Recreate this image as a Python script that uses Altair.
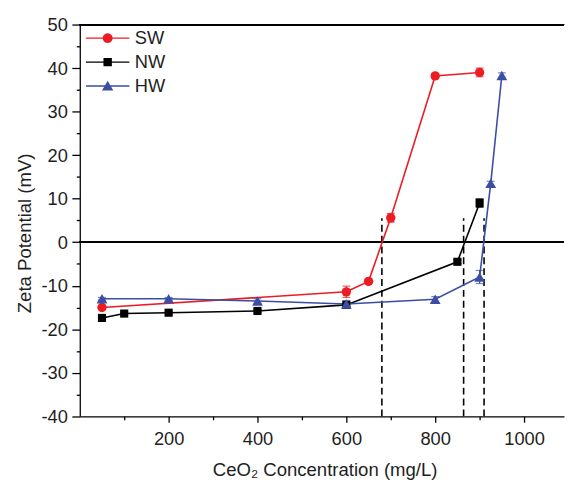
import math
import altair as alt
import pandas as pd

SERIES = ["SW", "NW", "HW"]
COLORS = ["#ec1c24", "#000000", "#3b4ea3"]
SHAPES = ["circle", "square", "triangle-up"]
SIZES = [90, 68, 120]

SW_X = [50, 600, 650, 700, 800, 900]
SW_Y = [-15.0, -11.4, -9.0, 5.6, 38.2, 39.0]
SW_E = [0.4, 1.3, 0.5, 1.0, 0.5, 1.0]

NW_X = [50, 100, 200, 400, 600, 850, 900]
NW_Y = [-17.4, -16.4, -16.2, -15.8, -14.4, -4.5, 9.0]
NW_E = [0.3, 0.3, 0.3, 0.3, 0.4, 0.4, 1.0]

HW_X = [50, 200, 400, 600, 800, 900, 925, 950]
HW_Y = [-13.0, -13.0, -13.5, -14.2, -13.1, -8.0, 13.5, 38.3]
HW_E = [0.3, 0.3, 0.5, 0.8, 0.6, 1.5, 0.5, 0.6]

DASH_X = [680, 864, 910]
DASH_LO = [-40, -40, -40]
DASH_HI = [5.5, 5.5, 5.5]

X_MAJOR = [200, 400, 600, 800, 1000]
X_MINOR = [100, 300, 500, 700, 900]
Y_MAJOR = [-40, -30, -20, -10, 0, 10, 20, 30, 40, 50]
Y_MINOR = [-35, -25, -15, -5, 5, 15, 25, 35, 45]

rows = []
for name, xs_, ys_, es_ in [("SW", SW_X, SW_Y, SW_E), ("NW", NW_X, NW_Y, NW_E), ("HW", HW_X, HW_Y, HW_E)]:
    for xv, yv, ev in zip(xs_, ys_, es_):
        rows.append({"series": name, "conc": xv, "zeta": yv, "lo": yv - ev, "hi": yv + ev})
df = pd.DataFrame(rows)
dash_df = pd.DataFrame({"x": DASH_X, "lo": DASH_LO, "hi": DASH_HI})

FONT = "Liberation Sans"
TXT = "#1e1e1e"

xscale = alt.Scale(domain=[0, 1090], nice=False, zero=False)
yscale = alt.Scale(domain=[-40, 50], nice=False, zero=False)
# colour scale for the marks (domain listed in reverse so it stays separate from the legend scales)
cscale = alt.Scale(domain=SERIES[::-1], range=COLORS[::-1])

x_major = alt.Axis(values=X_MAJOR, orient="bottom", tickSize=6, tickWidth=1.3, tickColor="#000",
                   domainColor="#000", domainWidth=1.3, grid=False, labelFont=FONT, labelFontSize=18.5,
                   labelColor=TXT, labelPadding=8, labelFlush=False, labelExpr="'' + datum.value",
                   title="CeO\u2082 Concentration (mg/L)", titleFont=FONT, titleFontSize=18.8,
                   titleFontWeight="normal", titleColor=TXT, titleX=248, titleY=60,
                   titleAlign="center", titleBaseline="alphabetic")
x_minor = alt.Axis(values=X_MINOR, orient="bottom", tickSize=3.5, tickWidth=1.3, tickColor="#000",
                   domain=False, labels=False, grid=False, title=None)
y_major = alt.Axis(values=Y_MAJOR, orient="left", tickSize=8, tickWidth=1.3, tickColor="#000",
                   domainColor="#000", domainWidth=1.3, grid=False, labelFont=FONT, labelFontSize=18.5,
                   labelColor=TXT, labelPadding=4.5, labelExpr="'' + datum.value",
                   title="Zeta Potential (mV)", titleFont=FONT, titleFontSize=18.8,
                   titleFontWeight="normal", titleColor=TXT, titleAngle=270, titleX=-56, titleY=211,
                   titleAlign="center", titleBaseline="middle")
y_minor = alt.Axis(values=Y_MINOR, orient="left", tickSize=3.5, tickWidth=1.3, tickColor="#000",
                   domain=False, labels=False, grid=False, title=None)

# legend symbols: line segment + marker, as custom paths (unit = half symbol width)
LINE_PART = "M-4.4,-0.15L4.4,-0.15L4.4,0.15L-4.4,0.15Z"
circ = "M" + "L".join(f"{1.0*math.cos(2*math.pi*k/20):.3f},{1.0*math.sin(2*math.pi*k/20):.3f}" for k in range(20)) + "Z"
P_SW = LINE_PART + circ
P_NW = LINE_PART + "M-0.85,-0.85L0.85,-0.85L0.85,0.85L-0.85,0.85Z"
P_HW = LINE_PART + "M0,-1.1L1.15,0.9L-1.15,0.9Z"

legend = alt.Legend(title=None, orient="none", legendX=19, legendY=4.5, padding=0,
                    symbolSize=100, symbolStrokeWidth=0, symbolOpacity=1, labelFont=FONT,
                    labelFontSize=18.5, labelColor=TXT, labelOffset=18.3, rowPadding=5.3)

base = alt.Chart(df)

zero_rule = alt.Chart(df).mark_rule(color="#000", strokeWidth=1.3).encode(
    y=alt.Y(datum=0, axis=None, scale=yscale))
top_rule = alt.Chart(df).mark_rule(color="#000", strokeWidth=1.3).encode(
    y=alt.Y(datum=50, axis=None))

dashes = alt.Chart(dash_df).mark_rule(color="#000", strokeWidth=1.6, strokeDash=[7, 4]).encode(
    x=alt.X("x:Q", axis=None),
    y=alt.Y("lo:Q", axis=None),
    y2="hi:Q")

lines = base.mark_line(strokeWidth=1.6).encode(
    x=alt.X("conc:Q", scale=xscale, axis=x_major),
    y=alt.Y("zeta:Q", scale=yscale, axis=y_major),
    color=alt.Color("series:N", scale=cscale, legend=None),
    detail="series:N")

err = base.mark_rule(strokeWidth=1.2).encode(
    x=alt.X("conc:Q", axis=None),
    y=alt.Y("lo:Q", axis=None),
    y2="hi:Q",
    color=alt.Color("series:N", scale=cscale, legend=None))
cap_lo = base.mark_tick(orient="horizontal", size=8, thickness=1.2).encode(
    x=alt.X("conc:Q", axis=None),
    y=alt.Y("lo:Q", axis=None),
    color=alt.Color("series:N", scale=cscale, legend=None))
cap_hi = base.mark_tick(orient="horizontal", size=8, thickness=1.2).encode(
    x=alt.X("conc:Q", axis=None),
    y=alt.Y("hi:Q", axis=None),
    color=alt.Color("series:N", scale=cscale, legend=None))

point_layers = []
for i, (name, shp, sz) in enumerate(zip(SERIES, SHAPES, SIZES)):
    point_layers.append(
        base.transform_filter(alt.datum.series == name).mark_point(
            filled=True, opacity=1, shape=shp, size=sz).encode(
            x=alt.X("conc:Q", axis=x_minor if i == 0 else None),
            y=alt.Y("zeta:Q", axis=y_minor if i == 0 else None),
            color=alt.Color("series:N", scale=cscale, legend=None)))

# invisible layer that only carries the legend (line + marker symbols)
legend_layer = base.mark_point(filled=True, opacity=0).encode(
    x=alt.X("conc:Q", axis=None),
    y=alt.Y("zeta:Q", axis=None),
    fill=alt.Fill("series:N", scale=alt.Scale(domain=SERIES, range=COLORS), legend=legend),
    shape=alt.Shape("series:N", scale=alt.Scale(domain=SERIES, range=[P_SW, P_NW, P_HW]), legend=legend))

chart = alt.layer(zero_rule, top_rule, dashes, lines, err, cap_lo, cap_hi, *point_layers, legend_layer).resolve_scale(
    x="shared", y="shared", color="shared"
).resolve_axis(
    x="independent", y="independent"
).properties(
    width=490.5, height=396.8,
    padding={"left": 72.7, "top": 13.7, "right": 2, "bottom": 65.5},
    autosize=alt.AutoSizeParams(type="none"),
    background="white"
).configure_view(stroke=None)

chart.save("out.html", embed_options={"renderer": "svg", "actions": False})
